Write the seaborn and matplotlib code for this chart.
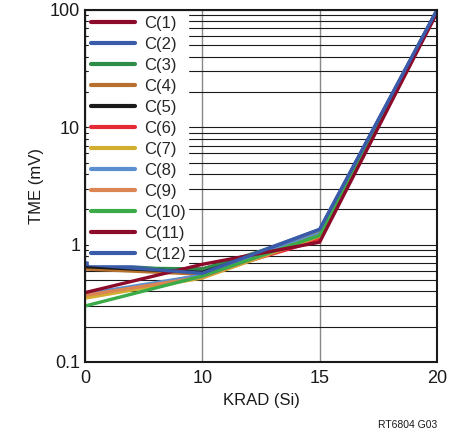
import matplotlib
matplotlib.use("Agg")
import matplotlib.pyplot as plt
import matplotlib.ticker as mticker
import seaborn as sns
import pandas as pd
from matplotlib import font_manager

krad_labels = ["0", "10", "15", "20"]
series_names = ["C(1)", "C(2)", "C(3)", "C(4)", "C(5)", "C(6)",
                "C(7)", "C(8)", "C(9)", "C(10)", "C(11)", "C(12)"]
c1 = [0.63, 0.62, 1.15, 97]
c2 = [0.70, 0.58, 1.35, 100]
c3 = [0.64, 0.62, 1.25, 99]
c4 = [0.62, 0.56, 1.28, 99]
c5 = [0.65, 0.58, 1.22, 98]
c6 = [0.36, 0.55, 1.10, 97]
c7 = [0.35, 0.52, 1.18, 98]
c8 = [0.38, 0.55, 1.25, 99]
c9 = [0.37, 0.53, 1.20, 98]
c10 = [0.30, 0.54, 1.20, 98]
c11 = [0.39, 0.68, 1.05, 95]
c12 = [0.68, 0.57, 1.35, 100]
values = [c1, c2, c3, c4, c5, c6, c7, c8, c9, c10, c11, c12]
colors = ["#8C0A2A", "#3A5BAA", "#2E8B4A", "#B8702E", "#1A1A1A", "#E52A36",
          "#D2AE30", "#5B8FD0", "#DA8552", "#3BAA48", "#8C0A2A", "#3A5BAA"]

rows = []
for name, vals in zip(series_names, values):
    for xl, v in zip(krad_labels, vals):
        rows.append({"KRAD": xl, "TME": v, "series": name})
df = pd.DataFrame(rows)

sns.set_style("white")
names = {f.name for f in font_manager.fontManager.ttflist}
fam = "Liberation Sans Narrow" if "Liberation Sans Narrow" in names else "Liberation Sans"
plt.rcParams["font.family"] = [fam, "DejaVu Sans"]

fig = plt.figure(figsize=(4.6, 4.34), dpi=100)
ax = fig.add_axes([85/460, 1-362/434, (437-85)/460, (362-10)/434])

sns.lineplot(data=df, x="KRAD", y="TME", hue="series", hue_order=series_names,
             palette=dict(zip(series_names, colors)), sort=False,
             linewidth=2.4, ax=ax, legend=True)

ax.set_yscale("log")
ax.set_ylim(0.1, 100)
ax.set_xlim(0, 3)
ax.yaxis.set_major_formatter(mticker.FuncFormatter(lambda v, p: f"{v:g}"))
ax.yaxis.set_minor_locator(mticker.LogLocator(base=10, subs=range(2, 10)))
ax.yaxis.set_minor_formatter(mticker.NullFormatter())
ax.grid(True, axis="y", which="both", color="#1A1A1A", linewidth=0.8, zorder=0)
ax.grid(True, axis="x", which="major", color="#888888", linewidth=1.0, zorder=0)
ax.set_axisbelow(True)
ax.tick_params(axis="y", which="both", direction="in", length=4, labelsize=13, color="#1A1A1A")
ax.tick_params(axis="x", length=0, labelsize=13, pad=6)
for s in ax.spines.values():
    s.set_color("#1A1A1A")
    s.set_linewidth(1.5)
ax.set_xlabel("KRAD (Si)", fontsize=12, color="#1A1A1A")
ax.set_ylabel("TME (mV)", fontsize=12, color="#1A1A1A")
for lab in ax.get_xticklabels() + ax.get_yticklabels():
    lab.set_color("#1A1A1A")

leg = ax.legend(loc="upper left", fontsize=12, frameon=True, framealpha=1,
                facecolor="white", edgecolor="white", handlelength=2.6,
                handletextpad=0.6, labelspacing=0.36, borderpad=0.12,
                fancybox=False, borderaxespad=0.25)
for h in leg.get_lines():
    h.set_linewidth(3)

fig.text(437/460, 1-425/434, "RT6804 G03", ha="right", va="center", fontsize=7.5, color="#1A1A1A")
fig.savefig("out.png", dpi=100)
